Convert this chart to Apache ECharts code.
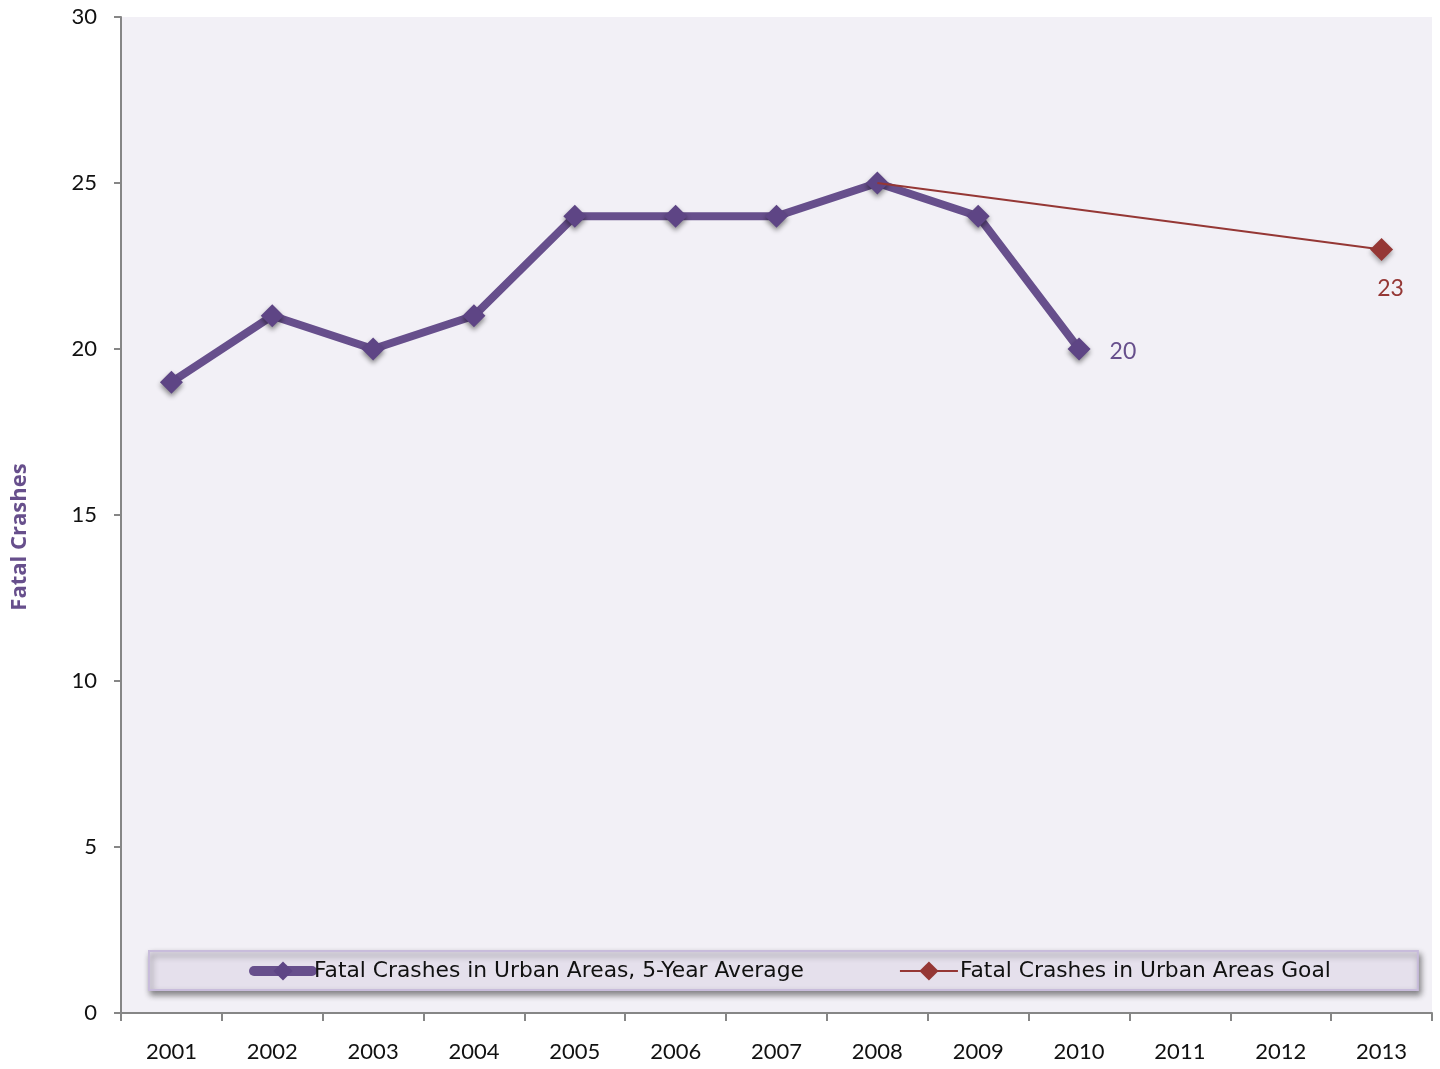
<!DOCTYPE html>
<html>
<head>
<meta charset="utf-8">
<script src="https://cdn.jsdelivr.net/npm/echarts@6/dist/echarts.min.js"></script>
<style>
  html, body { margin: 0; padding: 0; background: #ffffff; }
  #chart { width: 1440px; height: 1069px; }
</style>
</head>
<body>
<div id="chart"></div>
<script>
// years on the x axis
var years = ["2001", "2002", "2003", "2004", "2005", "2006", "2007", "2008", "2009", "2010", "2011", "2012", "2013"];
// 5-year average, ends at 2010
var avgValues = [19, 21, 20, 21, 24, 24, 24, 25, 24, 20, null, null, null];
// goal line: from 2008 to 2013
var goalValues = [null, null, null, null, null, null, null, 25, null, null, null, null, 23];
var yTicks = [0, 5, 10, 15, 20, 25, 30];

var avgName = "Fatal Crashes in Urban Areas, 5-Year Average";
var goalName = "Fatal Crashes in Urban Areas Goal";

var purple = "#674f8c";
var red = "#953735";
var font = "Lato";

var chart = echarts.init(document.getElementById("chart"));

// only label the last value of each line
function lastLabel(values, pos, color, dist, off) {
  var last = -1;
  values.forEach(function (v, i) { if (v != null) last = i; });
  return values.map(function (v, i) {
    if (v == null) return null;
    if (i !== last) return v;
    return {
      value: v,
      label: { show: true, position: pos, distance: dist, offset: off, color: color, fontSize: 23, fontFamily: font }
    };
  });
}

var goalData = lastLabel(goalValues, "bottom", red, 16, [9, 0]).map(function (d) {
  // the 2008 start point sits under the purple marker
  if (d != null && typeof d === "number") return { value: d, symbol: "none" };
  return d;
});

var option = {
  animation: false,
  textStyle: { fontFamily: font },
  grid: {
    left: 121, right: 8, top: 17, bottom: 56,
    show: true, backgroundColor: "#f2f0f6", borderWidth: 0
  },
  legend: {
    left: 149, bottom: 79,
    padding: [9, 87, 8, 100],
    itemGap: 95,
    itemWidth: 58, itemHeight: 24,
    backgroundColor: "#e5e0ec",
    borderColor: "#c8bcdb", borderWidth: 2,
    shadowColor: "rgba(0,0,0,0.45)", shadowBlur: 6, shadowOffsetX: 2, shadowOffsetY: 4,
    textStyle: { fontSize: 21.8, color: "#111", fontFamily: "DejaVu Sans", padding: [0, 0, 0, -3] },
    data: [
      {
        name: avgName,
        lineStyle: { color: purple, width: 10, cap: "round" },
        itemStyle: { color: "#5e4585" }
      },
      {
        name: goalName,
        lineStyle: { color: red, width: 2 },
        itemStyle: { color: red }
      }
    ]
  },
  xAxis: {
    type: "category",
    data: years,
    boundaryGap: true,
    axisLine: { lineStyle: { color: "#868686", width: 2 } },
    axisTick: { show: true, length: 8, lineStyle: { color: "#868686", width: 2 } },
    axisLabel: { fontSize: 22, color: "#111", margin: 28, fontFamily: font },
    splitLine: { show: false }
  },
  yAxis: {
    type: "value",
    min: yTicks[0], max: yTicks[yTicks.length - 1], interval: 5,
    name: "Fatal Crashes",
    nameLocation: "middle",
    nameGap: 90,
    nameTextStyle: { color: purple, fontSize: 22, fontWeight: "bold", fontFamily: "Open Sans", padding: [0, 0, 0, -44] },
    axisLine: { show: true, lineStyle: { color: "#868686", width: 2 } },
    axisTick: { show: true, length: 7, lineStyle: { color: "#868686", width: 2 } },
    axisLabel: { fontSize: 22, color: "#111", margin: 24, fontFamily: font },
    splitLine: { show: false }
  },
  series: [
    {
      name: avgName,
      type: "line",
      data: lastLabel(avgValues, "right", purple, 19, [0, 3]),
      symbol: "diamond",
      symbolSize: 23,
      lineStyle: { color: purple, width: 8 },
      itemStyle: { color: "#5e4585", shadowColor: "rgba(0,0,0,0.45)", shadowBlur: 5, shadowOffsetY: 3 },
      z: 2
    },
    {
      name: goalName,
      type: "line",
      data: goalData,
      connectNulls: true,
      symbol: "diamond",
      symbolSize: 23,
      lineStyle: { color: red, width: 2 },
      itemStyle: { color: red, shadowColor: "rgba(0,0,0,0.35)", shadowBlur: 5, shadowOffsetY: 3 },
      z: 3
    }
  ]
};

chart.setOption(option);
</script>
</body>
</html>
